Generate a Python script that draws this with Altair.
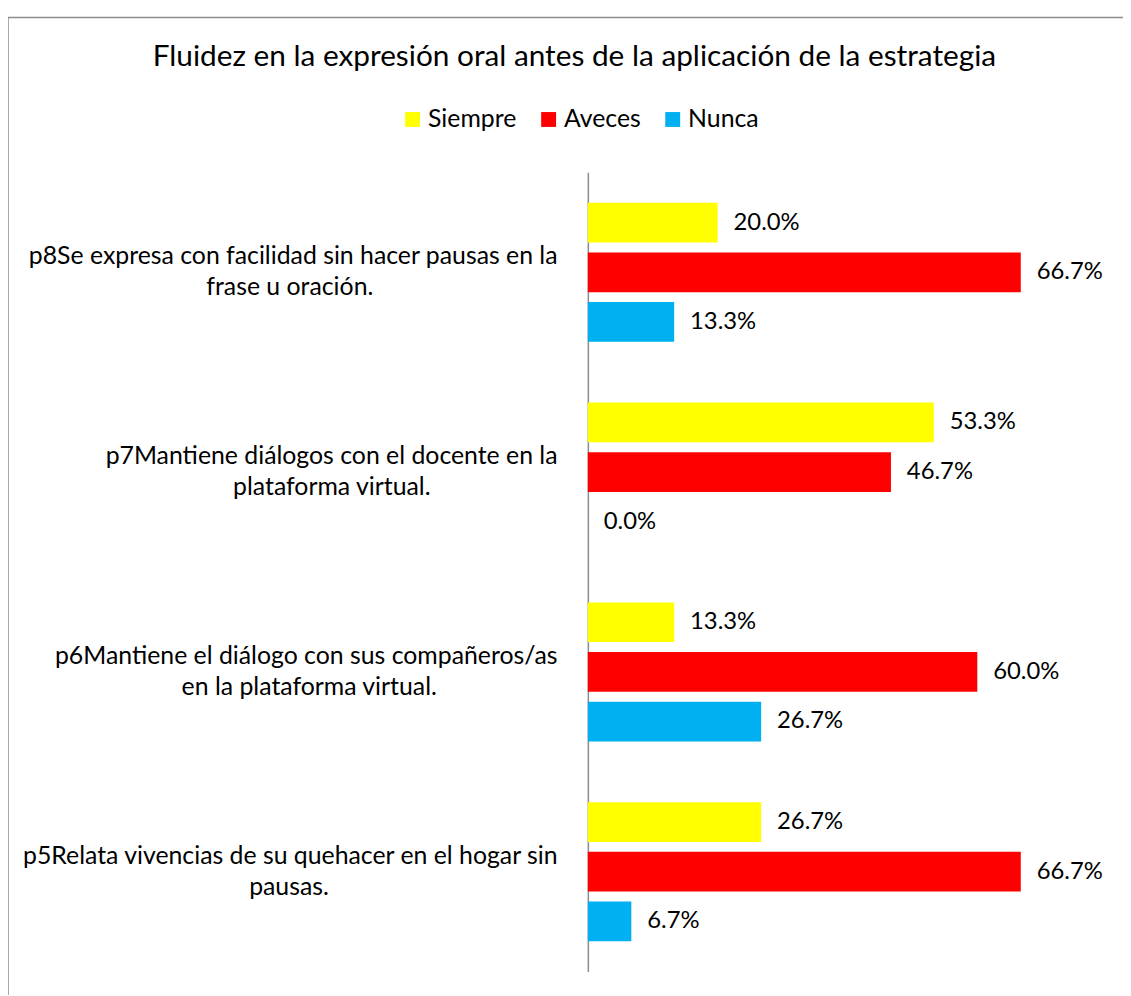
import altair as alt
import pandas as pd

# ---- data ----
keys = ["p8", "p7", "p6", "p5"]
label_line1 = [
    "p8Se expresa con facilidad sin hacer pausas en la",
    "p7Mantiene diálogos con el docente en la",
    "p6Mantiene el diálogo con sus compañeros/as",
    "p5Relata vivencias de su quehacer en el hogar sin",
]
label_line2 = [
    "frase u oración.",
    "plataforma virtual.",
    "en la plataforma virtual.",
    "pausas.",
]
series = ["Siempre", "Aveces", "Nunca"]
siempre = [0.200, 0.533, 0.133, 0.267]
aveces = [0.667, 0.467, 0.600, 0.667]
nunca = [0.133, 0.000, 0.267, 0.067]
colors = ["#FFFF00", "#FF0000", "#00B0F0"]

FONT = "Lato"
AXIS_FS = 25
DATA_FS = 24
LEGEND_FS = 25

# --- centre the 2nd line of each (right-aligned) label under the 1st one ---
# rough Lato advance widths (em) used only to estimate how much to pad
_W = {" ": 0.254, ".": 0.22, ",": 0.22, "/": 0.38, "i": 0.24, "í": 0.24, "l": 0.24,
      "j": 0.24, "f": 0.32, "t": 0.34, "r": 0.37, "s": 0.41, "c": 0.45, "z": 0.44,
      "m": 0.82, "w": 0.75, "n": 0.55, "ñ": 0.55, "h": 0.55, "u": 0.55, "p": 0.55,
      "q": 0.55, "d": 0.55, "b": 0.55, "o": 0.55, "ó": 0.55, "S": 0.49, "M": 0.83}
def est_width(s):
    w = 0.0
    for ch in s:
        if ch in _W:
            w += _W[ch]
        elif ch.isdigit():
            w += 0.58
        elif ch.isupper():
            w += 0.65
        else:
            w += 0.52
    return w

NBSP = "\u00a0"
ZWJ = "\u200d"  # keeps the trailing no-break spaces from being trimmed
def centred(l1, l2):
    k = round((est_width(l1) - est_width(l2)) / 2 / _W[" "])
    return l2 + NBSP * max(k, 0) + ZWJ

labels = [f"{a}|{centred(a, b)}" for a, b in zip(label_line1, label_line2)]

rows = []
for i, k in enumerate(keys):
    for s, vals in zip(series, [siempre, aveces, nunca]):
        rows.append({"pregunta": labels[i], "serie": s, "valor": vals[i]})
df = pd.DataFrame(rows)

y_enc = alt.Y(
    "pregunta:N",
    sort=labels,
    scale=alt.Scale(paddingInner=0, paddingOuter=0),
    axis=alt.Axis(
        title=None,
        ticks=False,
        grid=False,
        domain=True,
        domainColor="#8c8c8c",
        domainWidth=1.5,
        labelExpr="split(datum.label, '|')",
        labelFont=FONT,
        labelFontSize=AXIS_FS,
        labelColor="#000000",
        labelAlign="right",
        labelBaseline="middle",
        labelLineHeight=31,
        labelOffset=-16,
        labelPadding=31,
        labelLimit=700,
    ),
)
yoff = alt.YOffset(
    "serie:N",
    sort=series,
    scale=alt.Scale(paddingInner=0.2, paddingOuter=0.6125),
)
x_enc = alt.X("valor:Q", scale=alt.Scale(domain=[0, 0.8]), axis=None)

bars = alt.Chart(df).mark_bar().encode(
    x=x_enc,
    y=y_enc,
    yOffset=yoff,
    color=alt.Color(
        "serie:N",
        sort=series,
        scale=alt.Scale(domain=series, range=colors),
        legend=alt.Legend(
            title=None,
            orient="none",
            direction="horizontal",
            legendX=-189,
            legendY=-66,
            symbolType="square",
            symbolSize=225,
            symbolStrokeWidth=0,
            symbolOpacity=1,
            labelFont=FONT,
            labelFontSize=LEGEND_FS,
            labelColor="#000000",
            labelOffset=3,
            columnPadding=19,
            padding=0,
        ),
    ),
)

text = alt.Chart(df).mark_text(
    align="left", baseline="middle", dx=16, font=FONT, fontSize=DATA_FS, color="#000000"
).encode(
    x=x_enc,
    y=y_enc,
    yOffset=yoff,
    text=alt.Text("valor:Q", format=".1%"),
)

one = pd.DataFrame({"a": [0]})
frame_v = alt.Chart(one).mark_rule(color="#8c8c8c", strokeWidth=1.5).encode(
    x=alt.value(-584), y=alt.value(-156), y2=alt.value(900)
)
frame_h = alt.Chart(one).mark_rule(color="#8c8c8c", strokeWidth=1.5).encode(
    x=alt.value(-584), x2=alt.value(700), y=alt.value(-156)
)

chart = alt.layer(frame_v, frame_h, bars, text).properties(
    width=523,
    height=805,
    title=alt.TitleParams(
        "Fluidez en la expresión oral antes de la aplicación de la estrategia",
        font=FONT,
        fontSize=30,
        fontWeight="normal",
        color="#000000",
        anchor="middle",
        dx=-275,
        offset=-56,
    ),
    autosize=alt.AutoSizeParams(type="none"),
    padding={"left": 584, "top": 162, "right": 16, "bottom": 20},
).configure(background="#ffffff").configure_view(stroke=None)

chart.save("out.html", embed_options={"renderer": "svg", "actions": False})
